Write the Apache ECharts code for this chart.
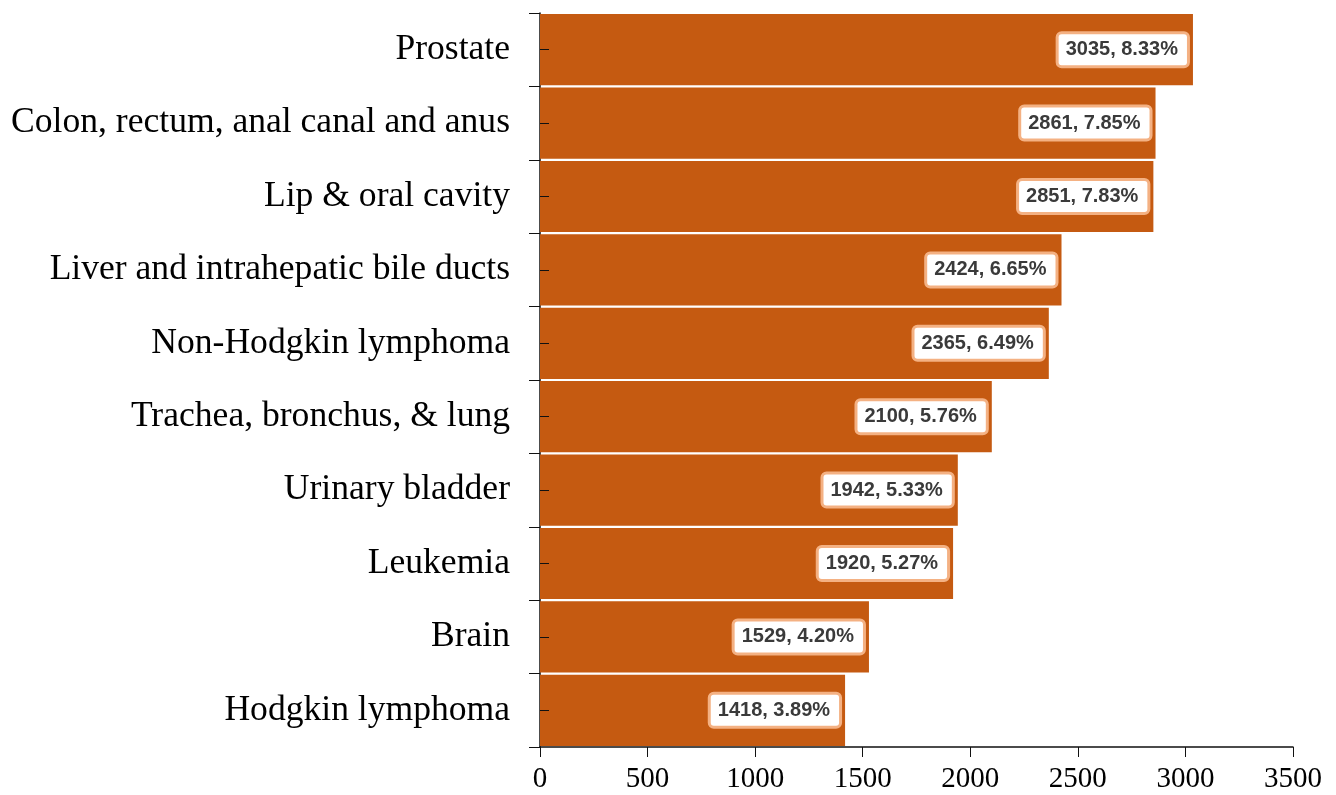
<!DOCTYPE html>
<html>
<head>
<meta charset="utf-8">
<script src="https://cdn.jsdelivr.net/npm/echarts@6/dist/echarts.min.js"></script>
<style>
  html, body { margin: 0; padding: 0; background: #fff; }
  #main { width: 1336px; height: 795px; }
</style>
</head>
<body>
<div id="main"></div>
<script>
var sites = ['Prostate', 'Colon, rectum, anal canal and anus', 'Lip & oral cavity',
  'Liver and intrahepatic bile ducts', 'Non-Hodgkin lymphoma', 'Trachea, bronchus, & lung',
  'Urinary bladder', 'Leukemia', 'Brain', 'Hodgkin lymphoma'];
var cases = [3035, 2861, 2851, 2424, 2365, 2100, 1942, 1920, 1529, 1418];
var shares = ['8.33%', '7.85%', '7.83%', '6.65%', '6.49%', '5.76%', '5.33%', '5.27%', '4.20%', '3.89%'];
var xTicks = [0, 500, 1000, 1500, 2000, 2500, 3000, 3500];

var chart = echarts.init(document.getElementById('main'));

var option = {
  animation: false,
  grid: { left: 540, right: 43, top: 13, bottom: 48 },
  xAxis: {
    type: 'value',
    min: xTicks[0],
    max: xTicks[xTicks.length - 1],
    interval: 500,
    splitLine: { show: false },
    axisLine: { show: true, lineStyle: { color: '#111', width: 1.5 } },
    axisTick: { show: true, length: 10, lineStyle: { color: '#111' } },
    axisLabel: {
      fontFamily: 'Liberation Serif', fontSize: 29, color: '#000', margin: 18,
      formatter: function (v) { return String(v); }
    }
  },
  yAxis: [{
    type: 'category',
    data: sites,
    inverse: true,
    axisLine: { show: true, lineStyle: { color: '#111', width: 1.5 } },
    axisTick: { show: true, length: 11, lineStyle: { color: '#111' } },
    axisLabel: { fontFamily: 'Liberation Serif', fontSize: 35.6, color: '#000', margin: 30 }
  }, {
    // inner ticks at the middle of each band, drawn over the bars
    type: 'category',
    data: sites,
    inverse: true,
    position: 'left',
    z: 5,
    axisLine: { show: false },
    axisTick: { show: true, inside: true, alignWithLabel: true, length: 9, lineStyle: { color: '#111' } },
    axisLabel: { show: false }
  }],
  series: [{
    type: 'bar',
    data: cases,
    barCategoryGap: '3%',
    itemStyle: { color: '#C55A11' },
    label: {
      show: true,
      position: 'insideRight',
      distance: 6,
      formatter: function (p) { return p.value + ', ' + shares[p.dataIndex]; },
      fontFamily: 'Liberation Sans',
      fontWeight: 'bold',
      fontSize: 20,
      color: '#3a3a3a',
      backgroundColor: '#fff',
      borderColor: '#F4B183',
      borderWidth: 3,
      borderRadius: 3,
      padding: [6, 9, 5, 7]
    }
  }]
};

chart.setOption(option);
</script>
</body>
</html>
